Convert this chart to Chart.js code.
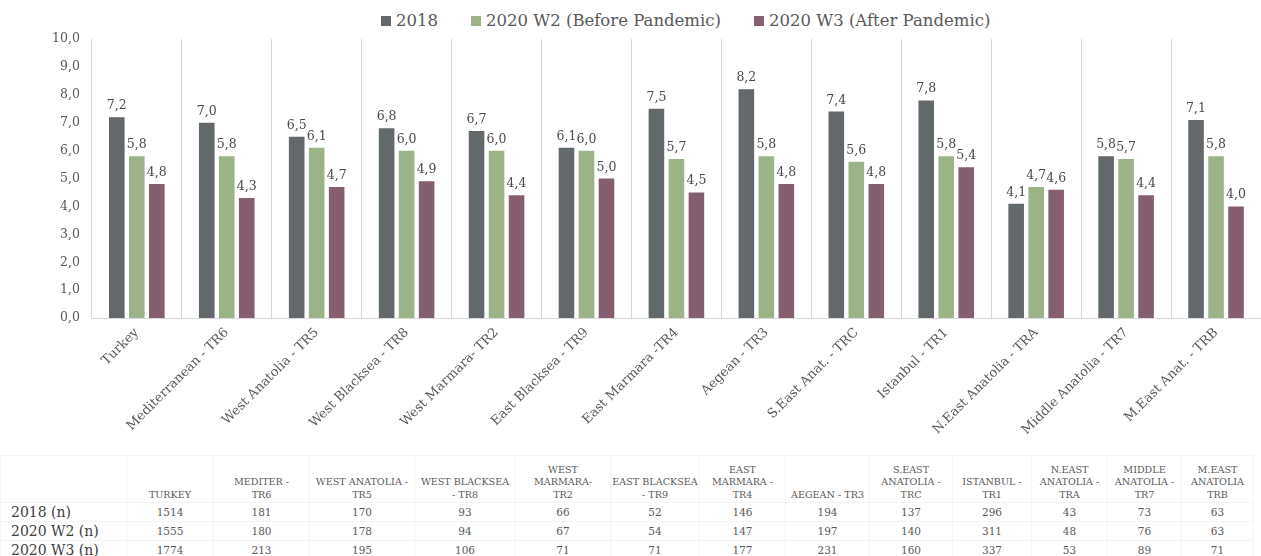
<!DOCTYPE html>
<html>
<head>
<meta charset="utf-8">
<script src="https://cdn.jsdelivr.net/npm/chart.js@4/dist/chart.umd.min.js"></script>
<style>
  html, body { margin: 0; padding: 0; background: #fff; }
  body { width: 1261px; height: 556px; position: relative; overflow: hidden;
         font-family: "DejaVu Serif", serif; color: #595959; }
  #legend { position: absolute; top: 11px; left: 381px; display: flex; align-items: center;
            font-size: 16.5px; white-space: nowrap; }
  #legend .item { display: flex; align-items: center; margin-right: 33px; }
  #legend .box { width: 10px; height: 10px; margin-right: 5px; }
  #chartWrap { position: absolute; left: 0; top: 0; width: 1261px; height: 445px; }
  #tbl { position: absolute; left: 0; top: 455px; border-collapse: collapse; table-layout: fixed; }
  #tbl td { padding: 0; text-align: center; color: #595959; border: 1px solid #f4f4f4; }
  #tbl tr.head td { font-size: 9.6px; line-height: 12.5px; height: 45px; vertical-align: bottom;
                    white-space: nowrap; padding-bottom: 1px; }
  #tbl tr.row td { font-size: 10.5px; height: 18px; }
  #tbl tr.row td.lab { font-size: 14px; text-align: left; padding-left: 10px; color: #404040; }
</style>
</head>
<body>
<div id="legend"></div>
<div id="chartWrap"><canvas id="c" width="1261" height="445"></canvas></div>
<table id="tbl"></table>
<script>
// Regions on the x axis
const categories = [
  "Turkey", "Mediterranean - TR6", "West Anatolia - TR5", "West Blacksea - TR8",
  "West Marmara- TR2", "East Blacksea - TR9", "East Marmara -TR4", "Aegean - TR3",
  "S.East Anat. - TRC", "Istanbul - TR1", "N.East Anatolia - TRA",
  "Middle Anatolia - TR7", "M.East Anat. - TRB"
];

// Series names and mean scores
const seriesNames = ["2018", "2020 W2 (Before Pandemic)", "2020 W3 (After Pandemic)"];
const values2018 = [7.2, 7.0, 6.5, 6.8, 6.7, 6.1, 7.5, 8.2, 7.4, 7.8, 4.1, 5.8, 7.1];
const valuesW2   = [5.8, 5.8, 6.1, 6.0, 6.0, 6.0, 5.7, 5.8, 5.6, 5.8, 4.7, 5.7, 5.8];
const valuesW3   = [4.8, 4.3, 4.7, 4.9, 4.4, 5.0, 4.5, 4.8, 4.8, 5.4, 4.6, 4.4, 4.0];
const seriesColors = ["#63686b", "#9bb386", "#855e6f"];

// Sample size table
const tableHeaders = [
  "TURKEY", "MEDITER -\nTR6", "WEST ANATOLIA -\nTR5", "WEST BLACKSEA\n- TR8",
  "WEST\nMARMARA-\nTR2", "EAST BLACKSEA\n- TR9", "EAST\nMARMARA -\nTR4", "AEGEAN - TR3",
  "S.EAST\nANATOLIA -\nTRC", "ISTANBUL -\nTR1", "N.EAST\nANATOLIA -\nTRA",
  "MIDDLE\nANATOLIA -\nTR7", "M.EAST\nANATOLIA\nTRB"
];
const tableRowLabels = ["2018 (n)", "2020 W2 (n)", "2020 W3 (n)"];
const n2018 = [1514, 181, 170, 93, 66, 52, 146, 194, 137, 296, 43, 73, 63];
const nW2   = [1555, 180, 178, 94, 67, 54, 147, 197, 140, 311, 48, 76, 63];
const nW3   = [1774, 213, 195, 106, 71, 71, 177, 231, 160, 337, 53, 89, 71];

const fmt = v => v.toFixed(1).replace('.', ',');

// Legend
const legend = document.getElementById('legend');
seriesNames.forEach((name, i) => {
  const it = document.createElement('div');
  it.className = 'item';
  const b = document.createElement('span');
  b.className = 'box';
  b.style.background = seriesColors[i];
  const t = document.createElement('span');
  t.textContent = name;
  it.appendChild(b); it.appendChild(t);
  legend.appendChild(it);
});

// Value labels above each bar
const valueLabels = {
  id: 'valueLabels',
  afterDatasetsDraw(chart) {
    const ctx = chart.ctx;
    ctx.save();
    ctx.font = '12.5px "DejaVu Serif", serif';
    ctx.fillStyle = '#4a4a4a';
    ctx.textAlign = 'center';
    ctx.textBaseline = 'bottom';
    chart.data.datasets.forEach((ds, di) => {
      chart.getDatasetMeta(di).data.forEach((bar, i) => {
        ctx.fillText(fmt(ds.data[i]), bar.x, bar.y - 5);
      });
    });
    ctx.restore();
  }
};

new Chart(document.getElementById('c'), {
  type: 'bar',
  data: {
    labels: categories,
    datasets: [
      { label: seriesNames[0], data: values2018, backgroundColor: seriesColors[0] },
      { label: seriesNames[1], data: valuesW2, backgroundColor: seriesColors[1] },
      { label: seriesNames[2], data: valuesW3, backgroundColor: seriesColors[2] }
    ]
  },
  options: {
    responsive: false,
    animation: false,
    events: [],
    datasets: { bar: { categoryPercentage: 0.667, barPercentage: 0.78 } },
    layout: { padding: { top: 39, left: 40, right: -13, bottom: 0 } },
    plugins: { legend: { display: false }, tooltip: { enabled: false } },
    scales: {
      x: {
        grid: { offset: true, color: '#d9d9d9', drawTicks: false },
        border: { color: '#d9d9d9' },
        ticks: {
          minRotation: 45, maxRotation: 45, padding: 7,
          color: '#595959', font: { family: '"DejaVu Serif", serif', size: 13 }
        }
      },
      y: {
        min: 0, max: 10,
        grid: { display: false, drawTicks: false },
        border: { display: false },
        ticks: {
          stepSize: 1, padding: 12, color: '#595959',
          font: { family: '"DejaVu Serif", serif', size: 12.5 },
          callback: v => fmt(v)
        }
      }
    }
  },
  plugins: [valueLabels]
});

// Table of sample sizes
const colWidths = [126, 87, 96, 105, 101, 95, 89, 86, 84, 83, 79, 76, 74, 72];
const tbl = document.getElementById('tbl');
const cg = document.createElement('colgroup');
colWidths.forEach(w => { const c = document.createElement('col'); c.style.width = w + 'px'; cg.appendChild(c); });
tbl.appendChild(cg);
const head = document.createElement('tr');
head.className = 'head';
head.appendChild(document.createElement('td'));
tableHeaders.forEach(h => {
  const td = document.createElement('td');
  h.split('\n').forEach((line, k) => {
    if (k) td.appendChild(document.createElement('br'));
    td.appendChild(document.createTextNode(line));
  });
  head.appendChild(td);
});
tbl.appendChild(head);
[n2018, nW2, nW3].forEach((row, r) => {
  const tr = document.createElement('tr');
  tr.className = 'row';
  const lab = document.createElement('td');
  lab.className = 'lab';
  lab.textContent = tableRowLabels[r];
  tr.appendChild(lab);
  row.forEach(v => { const td = document.createElement('td'); td.textContent = v; tr.appendChild(td); });
  tbl.appendChild(tr);
});
</script>
</body>
</html>
